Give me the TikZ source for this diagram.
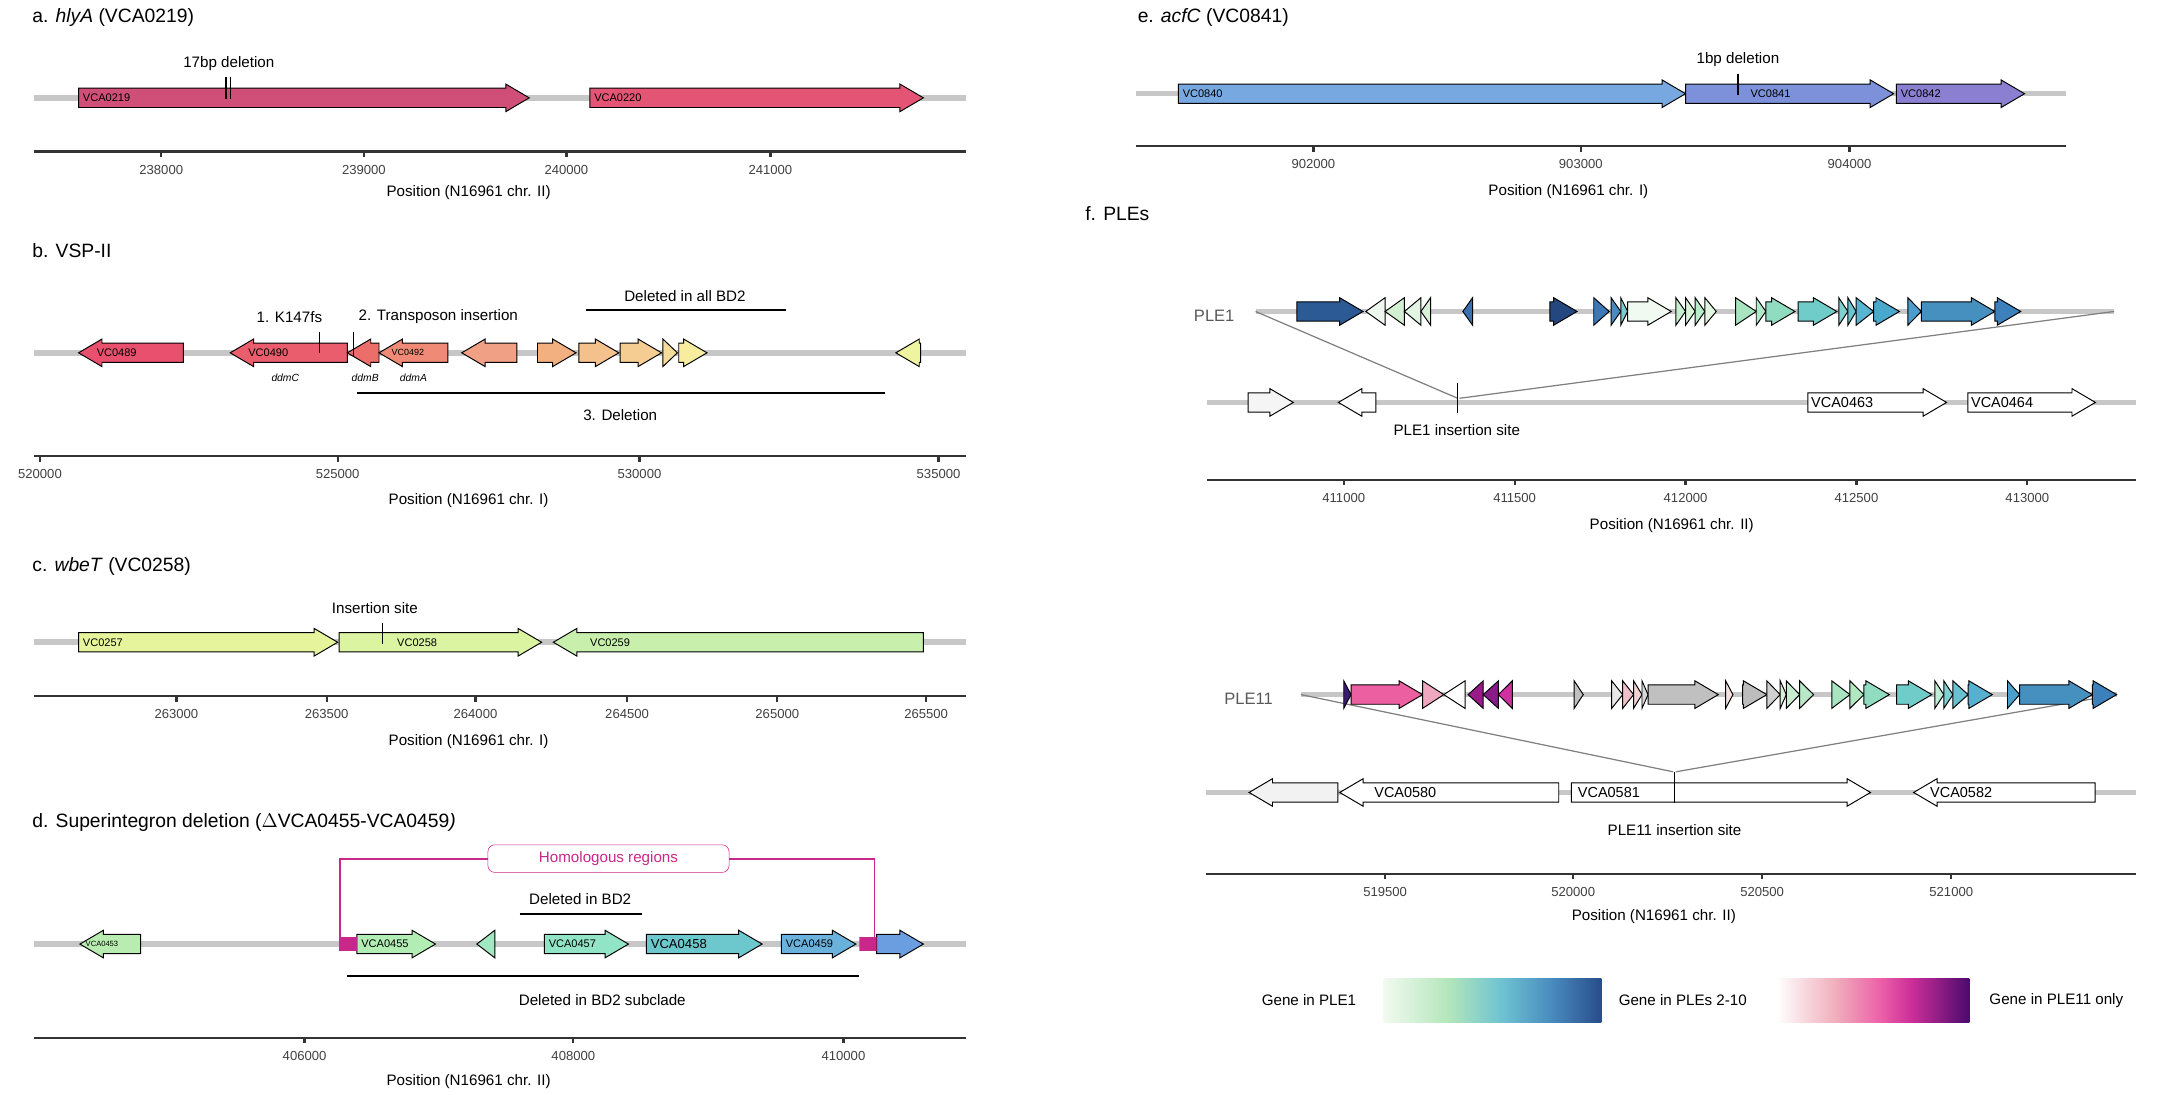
\documentclass[tikz,border=0pt]{standalone}
\usepackage{fontspec}
\setmainfont{Liberation Sans}
\definecolor{gA1}{HTML}{F2FAF0}\definecolor{gA2}{HTML}{B2E6BA}\definecolor{gA3}{HTML}{6EC3D2}\definecolor{gA4}{HTML}{4A8EC0}\definecolor{gA5}{HTML}{284C8A}
\definecolor{gB2}{HTML}{F0B0BC}\definecolor{gB3}{HTML}{EC60A8}\definecolor{gB4}{HTML}{CC2E98}\definecolor{gB5}{HTML}{4A0A6E}
\definecolor{pinkc}{HTML}{C8288A}
\pgfdeclarehorizontalshading{pleA}{100bp}{color(0bp)=(gA1);color(25bp)=(gA1);color(40bp)=(gA2);color(52bp)=(gA3);color(63bp)=(gA4);color(75bp)=(gA5);color(100bp)=(gA5)}
\pgfdeclarehorizontalshading{pleB}{100bp}{color(0bp)=(white);color(25bp)=(white);color(40bp)=(gB2);color(52bp)=(gB3);color(60bp)=(gB4);color(75bp)=(gB5);color(100bp)=(gB5)}
\newcommand\gene[4]{%
 \pgfmathsetmacro\Gd{#2-(#1)}%
 \pgfmathsetmacro\Gs{ifthenelse(\Gd>0,1,-1)}%
 \pgfmathsetmacro\GL{min(abs(\Gd),17)*\Gs}%
 \pgfmathsetmacro\Gh{#2-\GL}%
 \pgfmathsetmacro\Ya{#3-7}\pgfmathsetmacro\Yb{#3+7}%
 \pgfmathsetmacro\Yc{#3-10}\pgfmathsetmacro\Ye{#3+10}%
 \definecolor{gc}{HTML}{#4}%
 \filldraw[gene,fill=gc] (#1,\Ya) -- (\Gh,\Ya) -- (\Gh,\Yc) -- (#2,#3) -- (\Gh,\Ye) -- (\Gh,\Yb) -- (#1,\Yb) -- cycle;}
\newcommand\tk[4]{\draw[axis] (#1,#2) -- (#1,#2+4); \node[ticklab] (#4) at (#1,#2+13) {#3};}
\begin{document}
\begin{tikzpicture}[x=1pt,y=-1pt,
 gene/.style={draw=black,line width=0.7pt,line join=miter},
 track/.style={draw=black!22,line width=4pt},
 axis/.style={draw=black!80,line width=1.6pt},
 ticklab/.style={font=\fontsize{9.5}{11}\selectfont,text=black!75},
 axtitle/.style={font=\fontsize{11}{13}\selectfont},
 ttl/.style={font=\fontsize{14}{16}\selectfont,anchor=west},
 lab/.style={font=\fontsize{11}{13}\selectfont},
 gl/.style={font=\fontsize{8}{9}\selectfont,anchor=west,inner sep=0pt},
 glb/.style={font=\fontsize{10.5}{12}\selectfont,anchor=west,inner sep=0pt},
 mk/.style={draw=black,line width=0.9pt},
 conn/.style={draw=black!50,line width=0.9pt}]
\useasboundingbox (0,0) rectangle (1568,794.5);
% ---------- a
\node[ttl] (ta) at (20,13) {a. \textit{hlyA} (VCA0219)};
\draw[track] (25,71) -- (701,71);
\gene{57}{384}{71}{D04F78}\gene{428}{670}{71}{E45575}
\node[gl] (ga1) at (60,71) {VCA0219};\node[gl] (ga2) at (431,71) {VCA0220};
\draw[mk] (164,56)--(164,72) (167.5,56)--(167.5,72);
\node[lab] (la) at (166,46) {17bp deletion};
\draw[axis] (25,110) -- (701,110);
\tk{117}{110}{238000}{a1}\tk{264}{110}{239000}{a2}\tk{411}{110}{240000}{a3}\tk{559}{110}{241000}{a4}
\node[axtitle] (xa) at (340,140) {Position (N16961 chr. II)};
% ---------- b
\node[ttl] (tb) at (20,182) {b. VSP-II};
\draw[track] (25,256) -- (701,256);
\gene{133}{57}{256}{E8506E}\gene{252}{167}{256}{EA5D6C}\gene{275}{252}{256}{EC6E6A}\gene{325}{275}{256}{EE8A76}
\gene{375}{335}{256}{F0A084}\gene{390}{418}{256}{F2B080}\gene{420}{449}{256}{F4C08C}\gene{450}{480}{256}{F5CC92}
\gene{481}{491.5}{256}{F6DC9A}\gene{492.5}{513}{256}{F8EC9E}\gene{668}{650}{256}{EEF4A0}
\node[gl] (gb1) at (70,256) {VC0489};\node[gl] (gb2) at (180,256) {VC0490};\node[gl,font=\fontsize{6.5}{8}\selectfont] (gb3) at (284,256) {VC0492};
\draw[mk] (232,241)--(232,256) (256.5,241)--(256.5,258);
\node[lab] (lb1) at (210,230) {1. K147fs};\node[lab] (lb2) at (318,230) {2. Transposon insertion};
\node[font=\fontsize{7.5}{9}\selectfont\itshape] (d1) at (207,274) {ddmC};
\node[font=\fontsize{7.5}{9}\selectfont\itshape] (d2) at (265,274) {ddmB};
\node[font=\fontsize{7.5}{9}\selectfont\itshape] (d3) at (300,274) {ddmA};
\draw[line width=1.4pt] (425,225) -- (570,225);\node[lab] (lb3) at (497,215) {Deleted in all BD2};
\draw[line width=1.4pt] (259,285) -- (642,285);\node[lab] (lb4) at (450,301) {3. Deletion};
\draw[axis] (25,331) -- (701,331);
\tk{29}{331}{520000}{b1}\tk{245}{331}{525000}{b2}\tk{464}{331}{530000}{b3}\tk{681}{331}{535000}{b4}
\node[axtitle] (xb) at (340,363) {Position (N16961 chr. I)};
% ---------- c
\node[ttl] (tc) at (20,411) {c. \textit{wbeT} (VC0258)};
\draw[track] (25,466) -- (701,466);
\gene{57}{245}{466}{E6F59C}\gene{246}{393}{466}{DAF4A2}\gene{670}{401.5}{466}{C8F0AC}
\node[gl] (gc1) at (60,466) {VC0257};\node[gl] (gc2) at (288,466) {VC0258};\node[gl] (gc3) at (428,466) {VC0259};
\draw[mk] (277.6,452)--(277.6,467);\node[lab] (lc) at (272,441) {Insertion site};
\draw[axis] (25,505) -- (701,505);
\tk{128}{505}{263000}{c1}\tk{237}{505}{263500}{c2}\tk{345}{505}{264000}{c3}\tk{455}{505}{264500}{c4}\tk{564}{505}{265000}{c5}\tk{672}{505}{265500}{c6}
\node[axtitle] (xc) at (340,538) {Position (N16961 chr. I)};
% ---------- d
\node[ttl] (td) at (20,597) {d. Superintegron deletion ($\Delta$VCA0455-VCA0459\textit{)}};
\draw[track] (25,685) -- (701,685);
\draw[pinkc,line width=1.3pt] (246.5,683) -- (246.5,623) -- (354,623) (529,623) -- (634.5,623) -- (634.5,683);
\node[draw=pinkc,rounded corners=5pt,text=pinkc,minimum width=175pt,minimum height=20pt,font=\fontsize{11}{13}\selectfont] (hom) at (441.5,623) {Homologous regions};
\gene{102}{58}{685}{B8ECB0}\gene{259}{316}{685}{B2EEB4}\gene{359}{346}{685}{A2E8C2}\gene{395}{456}{685}{92E4C6}
\gene{469}{553}{685}{6CC8CC}\gene{567}{621}{685}{6AB2DC}\gene{636}{670}{685}{6A9EE0}
\fill[pinkc] (246,680) rectangle (259,690) (623.5,680) rectangle (636,690);
\node[gl,font=\fontsize{5.5}{7}\selectfont] (gd1) at (62,685) {VCA0453};\node[gl] (gd2) at (262,685) {VCA0455};
\node[gl] (gd3) at (398,685) {VCA0457};\node[gl,font=\fontsize{9.5}{11}\selectfont] (gd4) at (472,685) {VCA0458};\node[gl] (gd5) at (570,685) {VCA0459};
\draw[line width=1.4pt] (377,663) -- (466,663);\node[lab] (ld1) at (421,652) {Deleted in BD2};
\draw[line width=1.4pt] (252,708) -- (623,708);\node[lab] (ld2) at (437,726) {Deleted in BD2 subclade};
\draw[axis] (25,753) -- (701,753);
\tk{221}{753}{406000}{d1t}\tk{416}{753}{408000}{d2t}\tk{612}{753}{410000}{d3t}
\node[axtitle] (xd) at (340,785) {Position (N16961 chr. II)};
% ---------- e
\node[ttl] (te) at (822,13) {e. \textit{acfC} (VC0841)};
\draw[track] (824,68) -- (1499,68);
\gene{855}{1223}{68}{78A8E0}\gene{1223}{1374}{68}{7D90DA}\gene{1376}{1469}{68}{8B7FD2}
\node[gl] (ge1) at (858,68) {VC0840};\node[gl] (ge2) at (1270,68) {VC0841};\node[gl] (ge3) at (1379,68) {VC0842};
\draw[mk] (1261,54)--(1261,69);\node[lab] (le) at (1261,43) {1bp deletion};
\draw[axis] (824,106) -- (1499,106);
\tk{953}{106}{902000}{e1}\tk{1147}{106}{903000}{e2}\tk{1342}{106}{904000}{e3}
\node[axtitle] (xe) at (1138,139) {Position (N16961 chr. I)};
% ---------- f
\node[ttl] (tf) at (784,155) {f. PLEs};
\node[font=\fontsize{12}{14}\selectfont,text=black!65] (p1) at (881,229) {PLE1};
\draw[track] (911,226) -- (1534,226);
\draw[track] (876,292) -- (1550,292);
\draw[conn] (911,226) -- (1057.7,289) (1534,226) -- (1059,289);
\gene{941}{989}{226}{2B5A94}\gene{1005}{991}{226}{EEF8EE}\gene{1019}{1005}{226}{D4F0D4}\gene{1031}{1019}{226}{E2F5E2}\gene{1038}{1031}{226}{D8F2D8}
\gene{1068.5}{1061.4}{226}{3A70B0}\gene{1124.6}{1144.3}{226}{24477F}
\gene{1156.4}{1167.6}{226}{3A78B8}\gene{1169}{1176}{226}{4A8AC0}\gene{1176}{1181}{226}{7EC8D0}\gene{1181}{1212.6}{226}{F0FAF0}
\gene{1216}{1223}{226}{C8EED0}\gene{1223}{1230}{226}{D8F4D8}\gene{1230}{1237}{226}{B8ECC8}\gene{1237}{1245.3}{226}{E0F6E0}
\gene{1259.3}{1274.3}{226}{A8E4C0}\gene{1274.3}{1281.3}{226}{B0E8C8}\gene{1281.3}{1302.4}{226}{90DCC0}\gene{1304.7}{1332.8}{226}{70CCC8}
\gene{1334.2}{1340.8}{226}{80D0D0}\gene{1340.8}{1346.8}{226}{6CC4D0}\gene{1346.8}{1359.5}{226}{58B4D0}\gene{1359.5}{1378.2}{226}{4AA8CC}
\gene{1384.3}{1394.1}{226}{4A9CCC}\gene{1394.1}{1447.4}{226}{4690C0}\gene{1447.4}{1466.2}{226}{3C80BC}
\gene{905.6}{938.4}{292}{F5F5F5}\gene{998.3}{971.1}{292}{FFFFFF}\gene{1311.8}{1412.4}{292}{FFFFFF}\gene{1427.8}{1520.4}{292}{FFFFFF}
\node[glb] (gf1) at (1314,292) {VCA0463};\node[glb] (gf2) at (1430,292) {VCA0464};
\draw[mk] (1057.7,278)--(1057.7,300);\node[lab] (lf1) at (1057,312) {PLE1 insertion site};
\draw[axis] (876,348) -- (1550,348);
\tk{975}{348}{411000}{f1}\tk{1099}{348}{411500}{f2}\tk{1223}{348}{412000}{f3}\tk{1347}{348}{412500}{f4}\tk{1471}{348}{413000}{f5}
\node[axtitle] (xf1) at (1213,381) {Position (N16961 chr. II)};
% PLE11
\node[font=\fontsize{12}{14}\selectfont,text=black!65] (p11) at (906,507) {PLE11};
\draw[track] (944,504) -- (1536,504);
\draw[track] (875,575) -- (1550,575);
\draw[conn] (944,504) -- (1214,560) (1536,504) -- (1216,560);
\gene{975}{980.3}{504}{3A1A6E}\gene{980.3}{1032.2}{504}{EC5FA0}\gene{1032.2}{1047.6}{504}{F0A8C0}\gene{1063}{1047.6}{504}{FFFFFF}
\gene{1076.2}{1065.2}{504}{9A1A8A}\gene{1087.2}{1076.2}{504}{8A1A88}\gene{1097.3}{1087.2}{504}{D030A0}
\gene{1142.2}{1148.8}{504}{C0C0C0}\gene{1169.4}{1177.4}{504}{E8E8E8}\gene{1177.4}{1185.3}{504}{F0C0C8}\gene{1185.3}{1191.4}{504}{F0D0D0}
\gene{1191.4}{1195.8}{504}{D8D8D8}\gene{1195.8}{1246.8}{504}{C0C0C0}\gene{1252.1}{1257.4}{504}{F5E0E0}\gene{1264.4}{1282}{504}{BCBCBC}
\gene{1282}{1291.7}{504}{D0D0D0}\gene{1291.7}{1296.1}{504}{D8F0D8}\gene{1296.1}{1305.8}{504}{C8ECD0}\gene{1305.8}{1315.9}{504}{B8E8C8}
\gene{1329.1}{1342.3}{504}{A8E4C0}\gene{1342.3}{1352.4}{504}{B0E8C0}\gene{1352.4}{1370.9}{504}{90DCC0}\gene{1376.1}{1401.7}{504}{70CCC8}
\gene{1403.9}{1410.4}{504}{C0ECD8}\gene{1410.4}{1417}{504}{80D0D0}\gene{1417}{1428}{504}{68C0D0}\gene{1428}{1445.6}{504}{58B0D0}
\gene{1456.6}{1465.4}{504}{4AA0CC}\gene{1465.4}{1518.2}{504}{4690C0}\gene{1518.2}{1535.8}{504}{3C80BC}
\gene{970.7}{906.3}{575}{F2F2F2}\gene{1131}{972.1}{575}{FFFFFF}\gene{1140.1}{1357.2}{575}{FFFFFF}\gene{1520.2}{1388.5}{575}{FFFFFF}
\node[glb] (gf3) at (997,575) {VCA0580};\node[glb] (gf4) at (1144.7,575) {VCA0581};\node[glb] (gf5) at (1400.3,575) {VCA0582};
\draw[mk] (1215,560)--(1215,583);\node[lab] (lf2) at (1215,602) {PLE11 insertion site};
\draw[axis] (875,634) -- (1550,634);
\tk{1005}{634}{519500}{g1}\tk{1141.5}{634}{520000}{g2}\tk{1278.6}{634}{520500}{g3}\tk{1415.8}{634}{521000}{g4}
\node[axtitle] (xf2) at (1200,665) {Position (N16961 chr. II)};
% legend
\node[lab,anchor=west] (lg1) at (912,726) {Gene in PLE1};
\shade[shading=pleA] (1004,710) rectangle (1162,742);
\node[lab,anchor=west] (lg2) at (1171,726) {Gene in PLEs 2-10};
\shade[shading=pleB] (1289,710) rectangle (1429,742);
\node[lab,anchor=west] (lg3) at (1440,726) {Gene in PLE11 only};
\end{tikzpicture}
\end{document}
